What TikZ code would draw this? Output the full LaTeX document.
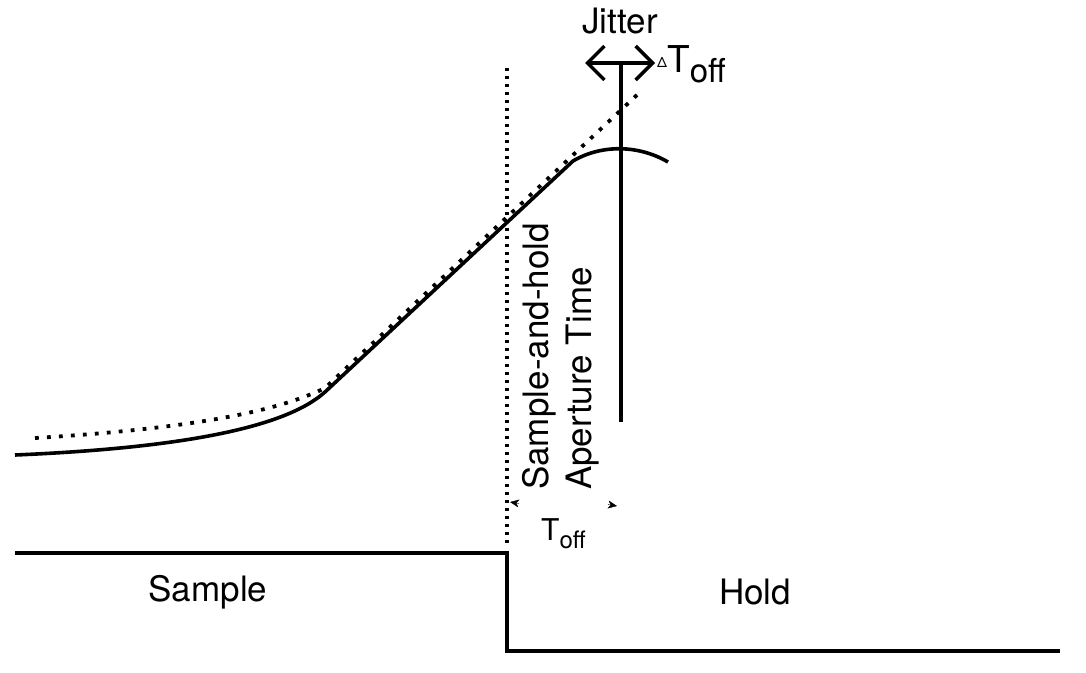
\documentclass[tikz,border=0pt]{standalone}
\usepackage{fontspec}
\setmainfont{TeX Gyre Heros}
\usetikzlibrary{arrows.meta}
\begin{document}
\begin{tikzpicture}[x=1pt,y=-1pt,
  thick line/.style={line width=3.6pt},
  dotline/.style={line width=3.8pt, dash pattern=on 3.8pt off 8.2pt},
  vdot/.style={line width=3.2pt, dash pattern=on 3.2pt off 4.8pt},
  lbl/.style={font=\fontsize{35}{43}\selectfont, inner sep=0pt},
  smallhead/.style={line width=0.4pt, -{Stealth[length=9pt,width=8pt,inset=2.5pt]}}
]
\useasboundingbox (0,0) rectangle (1086,672);
% step (sample/hold control)
\coordinate (s0) at (15,553);
\coordinate (s1) at (507,553);
\coordinate (s2) at (507,651);
\coordinate (s3) at (1060,651);
\draw[thick line, line join=miter] (s0) -- (s1) -- (s2) -- (s3);
% sampling instant (dotted vertical)
\coordinate (v0) at (507,68);
\coordinate (v1) at (507,545);
\draw[vdot] (v0) -- (v1);
% ideal input (dotted)
\coordinate (d0) at (35,438);
\coordinate (d1) at (325,388);
\coordinate (d2) at (638,94);
\draw[dotline] (d0) .. controls (200,428) and (280,410) .. (d1) -- (d2);
% actual output (solid)
\coordinate (c0) at (15,455);
\coordinate (c1) at (325,392);
\coordinate (c2) at (573,161);
\coordinate (c3) at (668,162);
\draw[thick line] (c0) .. controls (180,448) and (285,428) .. (c1) -- (c2)
  .. controls (602,144) and (639,145) .. (c3);
% aperture instant
\coordinate (a0) at (621,63);
\coordinate (a1) at (621,422);
\draw[thick line] (a0) -- (a1);
% jitter arrow
\coordinate (j0) at (585,63);
\coordinate (j1) at (655,63);
\draw[line width=3.4pt, {Straight Barb[length=17pt,width=34pt]}-{Straight Barb[length=17pt,width=34pt]}] (j0) -- (j1);
\node[lbl] (jit) at (620,21) {Jitter};
\node[inner sep=0pt, anchor=base west] (dt) at (657,72)
  {\raisebox{5pt}{\fontsize{14}{14}\selectfont Δ}\fontsize{37}{37}\selectfont T\raisebox{-10pt}{\fontsize{33}{33}\selectfont off}};
% aperture time label
\node[lbl, rotate=90, anchor=west, align=left] (ap) at (561,490) {Sample-and-hold\\Aperture Time};
% Toff arrowheads and label
\coordinate (t0) at (519,503.5);
\coordinate (t1) at (510,502);
\coordinate (t2) at (608,504.5);
\coordinate (t3) at (617,506);
\draw[smallhead] (t0) -- (t1);
\draw[smallhead] (t2) -- (t3);
\node[inner sep=0pt, anchor=base west] (toff) at (541,540)
  {\fontsize{30}{30}\selectfont T\raisebox{-8pt}{\fontsize{24}{24}\selectfont off}};
% phase labels
\node[lbl] (samp) at (208,592) {Sample};
\node[lbl] (hold) at (755,592) {Hold};
\end{tikzpicture}
\end{document}
